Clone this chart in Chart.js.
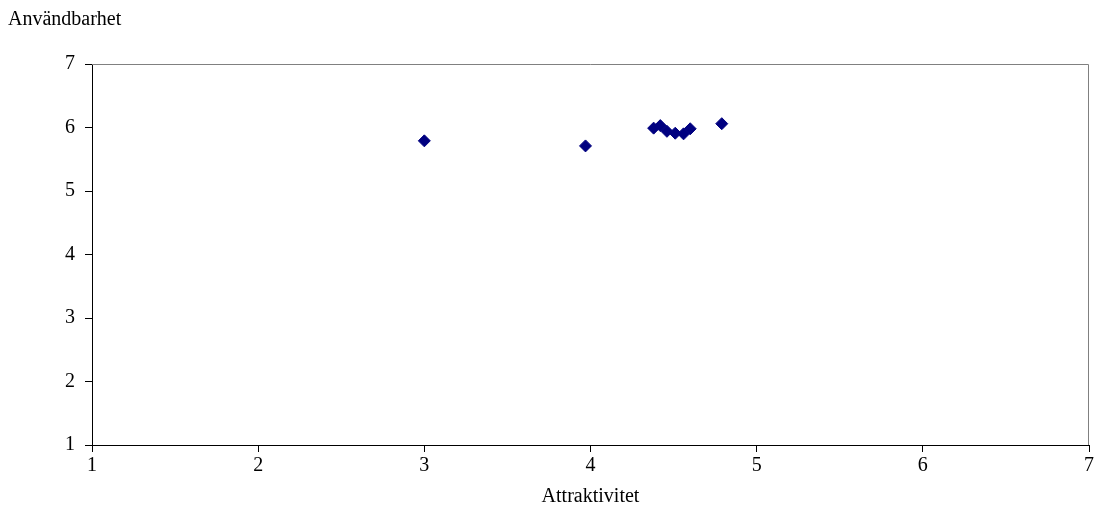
<!DOCTYPE html>
<html><head><meta charset="utf-8">
<script src="https://cdn.jsdelivr.net/npm/chart.js@4/dist/chart.umd.min.js"></script>
<style>html,body{margin:0;padding:0;background:#fff}#wrap{width:1096px;height:532px}</style>
</head><body><div id="wrap"><canvas id="c" width="1096" height="532"></canvas></div>
<script>
const xValues = [3.00, 3.97, 4.38, 4.42, 4.46, 4.51, 4.56, 4.60, 4.79];
const yValues = [5.79, 5.71, 5.99, 6.03, 5.94, 5.91, 5.90, 5.98, 6.06];
const xTicks = [1, 2, 3, 4, 5, 6, 7];
const yTicks = [1, 2, 3, 4, 5, 6, 7];
const xTitle = 'Attraktivitet';
const yTitle = 'Användbarhet';

const FONT = "'Liberation Serif', 'Times New Roman', serif";
const FS = 20;
const points = xValues.map((x, i) => ({x: x, y: yValues[i]}));

const frame = {
  id: 'frame',
  beforeDatasetsDraw(chart) {
    const {ctx, chartArea: a} = chart;
    ctx.save();
    ctx.strokeStyle = '#808080';
    ctx.lineWidth = 1;
    ctx.beginPath();
    ctx.moveTo(a.left, a.top + 0.5); ctx.lineTo(a.right - 0.5, a.top + 0.5); ctx.lineTo(a.right - 0.5, a.bottom);
    ctx.stroke();
    ctx.restore();
  },
  afterDraw(chart) {
    const {ctx, chartArea: a} = chart;
    ctx.save();
    ctx.fillStyle = '#000';
    ctx.font = FS + 'px ' + FONT;
    ctx.textBaseline = 'middle';
    ctx.textAlign = 'left';
    ctx.fillText(yTitle, 8, 20);
    ctx.textAlign = 'center';
    ctx.fillText(xTitle, (a.left + a.right) / 2, 497);
    ctx.restore();
  }
};

new Chart(document.getElementById('c'), {
  type: 'scatter',
  data: { datasets: [{ data: points, pointStyle: 'rectRot', radius: 6, hoverRadius: 6,
    backgroundColor: '#000080', borderColor: '#000080', borderWidth: 1 }] },
  options: {
    responsive: false, animation: false, devicePixelRatio: 1,
    layout: { padding: { top: 64, right: 7, left: 0, bottom: 0 } },
    plugins: { legend: { display: false }, tooltip: { enabled: false } },
    scales: {
      x: {
        type: 'linear', min: 1, max: 7,
        afterBuildTicks(s) { s.ticks = xTicks.map(v => ({value: v})); },
        afterFit(s) { s.height = 87; },
        grid: { display: true, drawOnChartArea: false, drawTicks: true, tickLength: 7, color: '#000' },
        border: { display: true, color: '#000', width: 1 },
        ticks: { color: '#000', padding: 2, font: { family: FONT, size: FS }, maxRotation: 0 }
      },
      y: {
        type: 'linear', min: 1, max: 7,
        afterBuildTicks(s) { s.ticks = yTicks.map(v => ({value: v})); },
        afterFit(s) { s.width = 92; },
        grid: { display: true, drawOnChartArea: false, drawTicks: true, tickLength: 7, color: '#000' },
        border: { display: true, color: '#000', width: 1 },
        ticks: { color: '#000', padding: 10, font: { family: FONT, size: FS } }
      }
    }
  },
  plugins: [frame]
});
</script></body></html>
